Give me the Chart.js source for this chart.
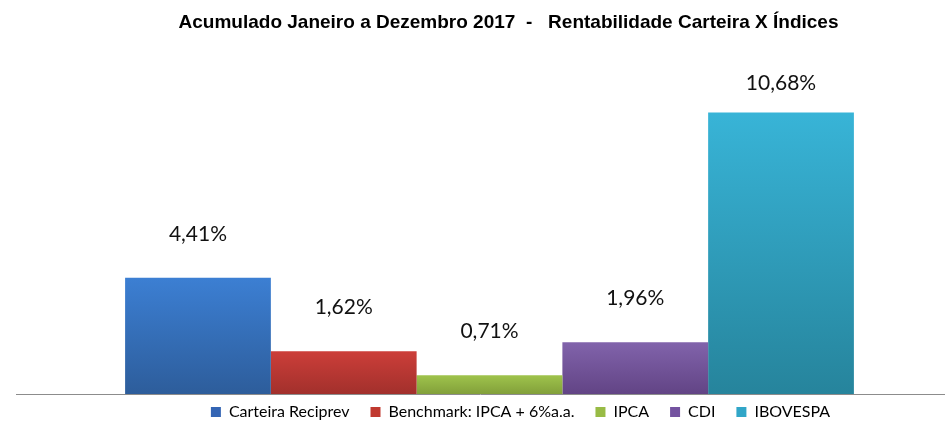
<!DOCTYPE html>
<html>
<head>
<meta charset="utf-8">
<script src="https://cdn.jsdelivr.net/npm/chart.js@4"></script>
<style>
  html, body { margin: 0; padding: 0; background: #fff; }
</style>
</head>
<body>
<canvas id="chart" width="945" height="425"></canvas>
<script>
const categories = ["Carteira Reciprev", "Benchmark: IPCA + 6%a.a.", "IPCA", "CDI", "IBOVESPA"]
const values = [4.41, 1.62, 0.71, 1.96, 10.68]
const topColors = ["#3c7fd3", "#cc3e39", "#9fc34c", "#8163ab", "#38b4d7"]
const bottomColors = ["#2d5d9b", "#a2302c", "#82a03a", "#624485", "#26849c"]
const legendColors = ["#3465b4", "#c0392f", "#98bb45", "#7453a0", "#31a6c8"]

function barGradient(ctx, i) {
  const chart = ctx.chart
  if (!chart.chartArea || !chart.scales.y) return legendColors[i]
  const y = chart.scales.y
  const top = y.getPixelForValue(values[i])
  const bottom = y.getPixelForValue(0)
  const g = chart.ctx.createLinearGradient(0, top, 0, bottom)
  g.addColorStop(0, topColors[i])
  g.addColorStop(1, bottomColors[i])
  return g
}

const extras = {
  id: "extras",
  afterLayout(chart) {
    // shift title and legend to where the original has them
    chart.titleBlock.left += 19
    chart.titleBlock.right += 19
    chart.legend.left += 31
    chart.legend.right += 31
    chart.legend.top -= 11
    chart.legend.bottom -= 11
  },
  beforeDatasetsDraw(chart) {
    const c = chart.ctx
    const y0 = Math.round(chart.scales.y.getPixelForValue(0)) + 0.5
    c.save()
    c.strokeStyle = "#8c8c8c"
    c.lineWidth = 1
    c.beginPath()
    c.moveTo(16, y0)
    c.lineTo(chart.width, y0)
    c.stroke()
    c.restore()
  },
  afterDatasetsDraw(chart) {
    const c = chart.ctx
    c.save()
    c.font = "21px Lato"
    c.fillStyle = "#111"
    c.textAlign = "center"
    c.textBaseline = "middle"
    chart.data.datasets.forEach((ds, i) => {
      const bar = chart.getDatasetMeta(i).data[0]
      const txt = values[i].toFixed(2).replace(".", ",") + "%"
      const y = Math.max(bar.y - 44, chart.chartArea.top + 5)
      c.fillText(txt, bar.x, y)
    })
    c.restore()
  }
}

new Chart(document.getElementById("chart"), {
  type: "bar",
  data: {
    labels: [""],
    datasets: categories.map((name, i) => ({
      label: name,
      data: [values[i]],
      backgroundColor: ctx => barGradient(ctx, i),
      borderWidth: 0
    }))
  },
  options: {
    responsive: false,
    animation: false,
    devicePixelRatio: 1,
    categoryPercentage: 0.8,
    barPercentage: 1,
    layout: { padding: { left: 34, right: 0, top: 0, bottom: -16 } },
    scales: {
      x: { display: false },
      y: { display: false, min: 0, max: 12 }
    },
    plugins: {
      tooltip: { enabled: false },
      title: {
        display: true,
        text: "Acumulado Janeiro a Dezembro 2017  -   Rentabilidade Carteira X Índices",
        color: "#000",
        font: { family: "Liberation Sans", size: 19, weight: "bold" },
        padding: { top: 11, bottom: 44 }
      },
      legend: {
        position: "bottom",
        labels: {
          color: "#222",
          font: { family: "Lato", size: 16 },
          boxWidth: 10,
          boxHeight: 10,
          padding: 21,
          generateLabels: chart => categories.map((name, i) => ({
            text: name,
            fillStyle: legendColors[i],
            strokeStyle: legendColors[i],
            lineWidth: 0,
            datasetIndex: i
          }))
        }
      }
    }
  },
  plugins: [extras]
})
</script>
</body>
</html>
